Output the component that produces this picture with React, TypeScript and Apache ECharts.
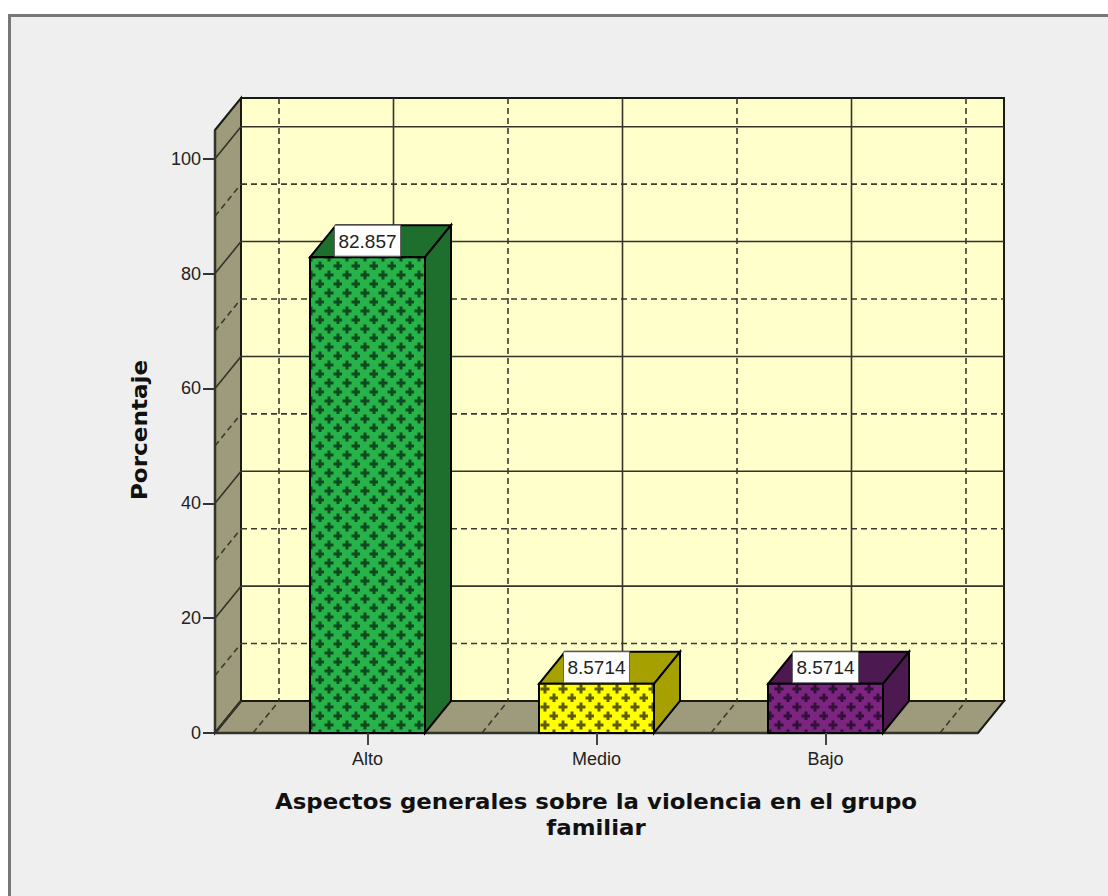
import React, { useEffect, useRef } from "react";
import * as echarts from "echarts";

const categories = ["Alto", "Medio", "Bajo"];
const values = [82.857, 8.5714, 8.5714];
const valueLabels = ["82.857", "8.5714", "8.5714"];
const barFront = ["#27b34a", "#ffff00", "#7b2581"];
const barSide = ["#1e6e2e", "#a6a000", "#4c1a50"];
const barPlus = ["#0e4a1e", "#5e5c00", "#33103a"];
const solidLevels = [0, 20, 40, 60, 80, 100];
const dashedLevels = [10, 30, 50, 70, 90];
const yMax = 105;
const xTitle = ["Aspectos generales sobre la violencia en el grupo", "familiar"];
const yTitle = "Porcentaje";

const DX = 26;
const DY = -32;
const LEFT = 215;
const RIGHT = 978;
const BAND = 229;
const BARW = 115;
const WALL = "#9d9b7c";
const BACK = "#ffffcc";
const INK = "#1a1a14";
const FONT = "Liberation Sans";
const TITLE_FONT = `bold 22px "DejaVu Sans"`;

function makeTile(bg: string, fg: string) {
  const c = document.createElement("canvas");
  c.width = 18;
  c.height = 18;
  const g = c.getContext("2d")!;
  g.fillStyle = bg;
  g.fillRect(0, 0, 18, 18);
  g.fillStyle = fg;
  const plus = (x: number, y: number) => {
    g.fillRect(x - 1.5, y - 4.5, 3, 9);
    g.fillRect(x - 4.5, y - 1.5, 9, 3);
  };
  for (const [x, y] of [[5, 5], [14, 14]]) plus(x, y);
  return c;
}

export default function App() {
  const ref = useRef<HTMLDivElement>(null);
  useEffect(() => {
    const chart = echarts.init(ref.current!, undefined, { renderer: "svg" });
    const tiles = barFront.map((b, i) => makeTile(b, barPlus[i]));

    const renderWalls = (_p: any, api: any) => {
      const y0 = api.coord([0, 0])[1];
      const yTop = api.coord([0, yMax])[1];
      const children: any[] = [];
      const line = (x1: number, y1: number, x2: number, y2: number, dashed: boolean, w = 1.6) =>
        children.push({
          type: "line",
          shape: { x1, y1, x2, y2 },
          style: { stroke: dashed ? "#3a3a30" : "#33332a", lineWidth: w, lineDash: dashed ? [6, 4] : undefined },
        });
      const poly = (points: number[][], fill: string) =>
        children.push({ type: "polygon", shape: { points }, style: { fill, stroke: INK, lineWidth: 2 } });
      poly([[LEFT + DX, yTop + DY], [RIGHT + DX, yTop + DY], [RIGHT + DX, y0 + DY], [LEFT + DX, y0 + DY]], BACK);
      poly([[LEFT, yTop], [LEFT + DX, yTop + DY], [LEFT + DX, y0 + DY], [LEFT, y0]], WALL);
      poly([[LEFT, y0], [LEFT + DX, y0 + DY], [RIGHT + DX, y0 + DY], [RIGHT, y0]], WALL);
      dashedLevels.forEach((v) => {
        const y = api.coord([0, v])[1];
        line(LEFT, y, LEFT + DX, y + DY, true);
        line(LEFT + DX, y + DY, RIGHT + DX, y + DY, true);
      });
      solidLevels.slice(1).forEach((v) => {
        const y = api.coord([0, v])[1];
        line(LEFT, y, LEFT + DX, y + DY, false);
        line(LEFT + DX, y + DY, RIGHT + DX, y + DY, false);
      });
      categories.forEach((_c, i) => {
        const x = api.coord([i, 0])[0];
        line(x + DX, yTop + DY, x + DX, y0 + DY, false);
        line(x, y0, x + DX, y0 + DY, false);
      });
      for (let i = 0; i <= categories.length; i++) {
        const x = api.coord([0, 0])[0] + (i - 0.5) * BAND;
        line(x + DX, yTop + DY, x + DX, y0 + DY, true);
        line(x, y0, x + DX, y0 + DY, true);
      }
      // strong front edges of the floor and the side wall
      line(LEFT, y0, RIGHT, y0, false, 2.5);
      line(LEFT, yTop, LEFT, y0, false, 2.5);
      line(LEFT, y0, LEFT + DX, y0 + DY, false, 2.5);
      return { type: "group", children };
    };

    const renderBar = (_p: any, api: any) => {
      const i = api.value(0);
      const [cx, yv] = api.coord([i, api.value(1)]);
      const y0 = api.coord([i, 0])[1];
      const l = cx - BARW / 2;
      const r = cx + BARW / 2;
      const st = { fill: barSide[i], stroke: "#000", lineWidth: 2 };
      return {
        type: "group",
        children: [
          { type: "polygon", shape: { points: [[l, yv], [l + DX, yv + DY], [r + DX, yv + DY], [r, yv]] }, style: st },
          { type: "polygon", shape: { points: [[r, yv], [r + DX, yv + DY], [r + DX, y0 + DY], [r, y0]] }, style: st },
          {
            type: "rect",
            shape: { x: l, y: yv, width: BARW, height: y0 - yv },
            style: { fill: { image: tiles[i], repeat: "repeat" }, stroke: "#000", lineWidth: 2 },
          },
          {
            type: "rect",
            shape: { x: cx - 33, y: yv - 32, width: 66, height: 31 },
            style: { fill: "#fff", stroke: "#666", lineWidth: 1 },
          },
          {
            type: "text",
            x: cx,
            y: yv - 16,
            style: {
              text: valueLabels[i],
              fill: "#222",
              font: `19px "${FONT}"`,
              align: "center",
              verticalAlign: "middle",
            },
          },
        ],
      };
    };

    chart.setOption({
      animation: false,
      backgroundColor: "#ffffff",
      grid: { left: 253, top: 130, width: 687, height: 603 },
      xAxis: {
        type: "category",
        data: categories,
        z: 5,
        axisLine: { show: false },
        axisTick: { show: true, alignWithLabel: true, length: 12, lineStyle: { color: "#444", width: 2 } },
        axisLabel: { color: "#222", fontFamily: FONT, fontSize: 18, margin: 17 },
      },
      yAxis: {
        type: "value",
        min: 0,
        max: yMax,
        interval: 20,
        offset: 38,
        z: 5,
        splitLine: { show: false },
        axisLine: { show: false },
        axisTick: { show: true, customValues: solidLevels, length: 12, lineStyle: { color: "#333", width: 2 } },
        axisLabel: { customValues: solidLevels, color: "#222", fontFamily: FONT, fontSize: 18, margin: 14 },
      },
      graphic: [
        {
          type: "rect",
          z: -10,
          silent: true,
          shape: { x: 9.5, y: 15.5, width: 1200, height: 1000 },
          style: { fill: "#efefef", stroke: "#777", lineWidth: 3 },
        },
        {
          type: "text",
          z: 10,
          x: 596,
          y: 801,
          scaleX: 1.04,
          style: { text: xTitle[0], font: TITLE_FONT, fill: "#111", align: "center", verticalAlign: "middle" },
        },
        {
          type: "text",
          z: 10,
          x: 596,
          y: 827,
          scaleX: 1.04,
          style: { text: xTitle[1], font: TITLE_FONT, fill: "#111", align: "center", verticalAlign: "middle" },
        },
        {
          type: "text",
          z: 10,
          x: 139,
          y: 430,
          rotation: Math.PI / 2,
          scaleX: 1.05,
          style: { text: yTitle, font: TITLE_FONT, fill: "#111", align: "center", verticalAlign: "middle" },
        },
      ],
      series: [
        {
          type: "custom",
          clip: false,
          silent: true,
          z: 0,
          renderItem: renderWalls,
          data: [[0, 0]],
          encode: { x: 0, y: 1 },
        },
        {
          type: "custom",
          clip: false,
          silent: true,
          z: 2,
          renderItem: renderBar,
          data: values.map((v, i) => [i, v]),
          encode: { x: 0, y: 1 },
        },
      ],
    });
    return () => chart.dispose();
  }, []);
  return <div ref={ref} style={{ position: "fixed", left: 0, top: 0, width: 1108, height: 896 }} />;
}
